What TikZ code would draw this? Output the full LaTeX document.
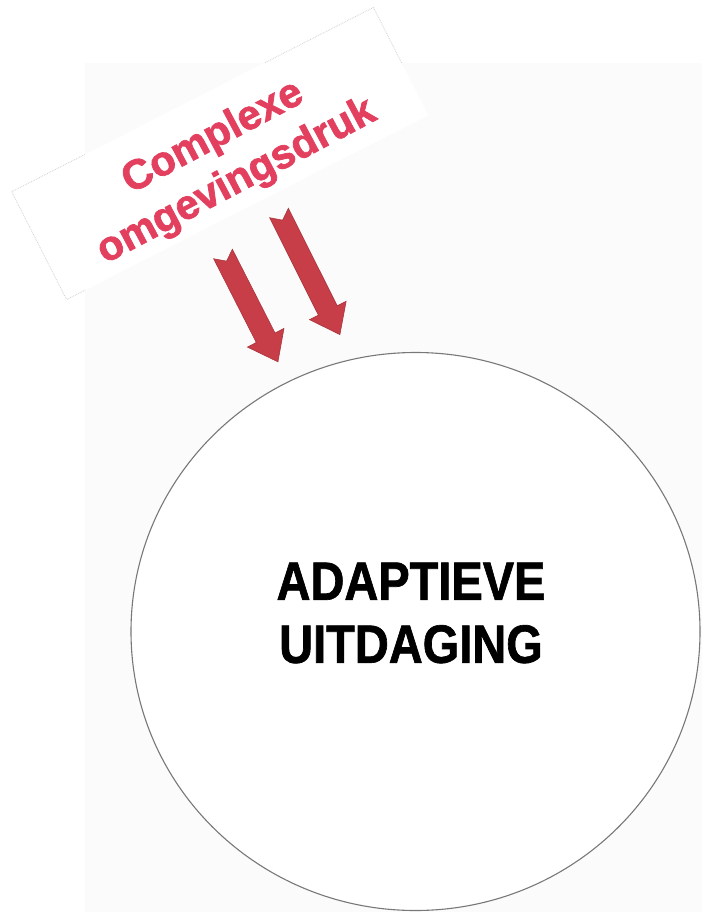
\documentclass[tikz,border=0pt]{standalone}
\usepackage{fontspec}
\setmainfont{Liberation Sans}
\newfontfamily\condfont[FakeStretch=0.87,FakeBold=1.2]{Liberation Sans}
\newfontfamily\heavyfont[FakeBold=1.8]{Liberation Sans}
\usetikzlibrary{shapes.geometric}
\definecolor{redtext}{RGB}{226,64,94}
\definecolor{arrowred}{RGB}{200,62,72}
\definecolor{bgrey}{RGB}{251,251,251}
\definecolor{ringgrey}{RGB}{120,120,120}
\tikzset{
  bigarrow/.style={fill=arrowred, draw=arrowred!85!black, line width=0.6pt, line join=miter},
  notebox/.style={rotate=27, minimum width=406pt, minimum height=121pt, inner sep=0pt},
}
\begin{document}
\begin{tikzpicture}[x=1pt,y=-1pt]
\useasboundingbox (0,0) rectangle (702,912);
\fill[white] (0,0) rectangle (702,912);
% faint background panel
\fill[bgrey] (85,63) rectangle (702,912);
% rotated note box
\node[notebox, fill=white] (note) at (220,153.5) {};
\begin{scope}
  \clip (0,0) -- (702,0) -- (702,63) -- (85,63) -- (85,912) -- (0,912) -- cycle;
  \node[notebox, draw=gray!35, densely dotted, line width=0.8pt] at (220,153.5) {};
\end{scope}
% red text
\node[rotate=28, text=redtext, font=\heavyfont\bfseries\fontsize{41.5}{50}\selectfont, align=center, inner sep=0pt] (press) at (225,160) {Complexe\\omgevingsdruk};
% arrows
\begin{scope}[shift={(223,254)}, rotate=-63]
  \filldraw[bigarrow] (0,10.5) -- (94,10.5) -- (94,20.5) -- (121,0) -- (94,-20.5) -- (94,-10.5) -- (0,-10.5) -- (8,0) -- cycle;
\end{scope}
\begin{scope}[shift={(279,213)}, rotate=-63.4]
  \filldraw[bigarrow] (0,10.5) -- (109,10.5) -- (109,20.5) -- (136,0) -- (109,-20.5) -- (109,-10.5) -- (0,-10.5) -- (8,0) -- cycle;
\end{scope}
% circle
\node[ellipse, draw=ringgrey, line width=1.1pt, fill=white, minimum width=569pt, minimum height=558pt, inner sep=0pt] (ring) at (415.5,631.5) {};
% label
\node[font=\condfont\bfseries\fontsize{54}{63}\selectfont, align=center, inner sep=0pt] (label) at (411,613) {ADAPTIEVE\\UITDAGING};
\end{tikzpicture}
\end{document}
